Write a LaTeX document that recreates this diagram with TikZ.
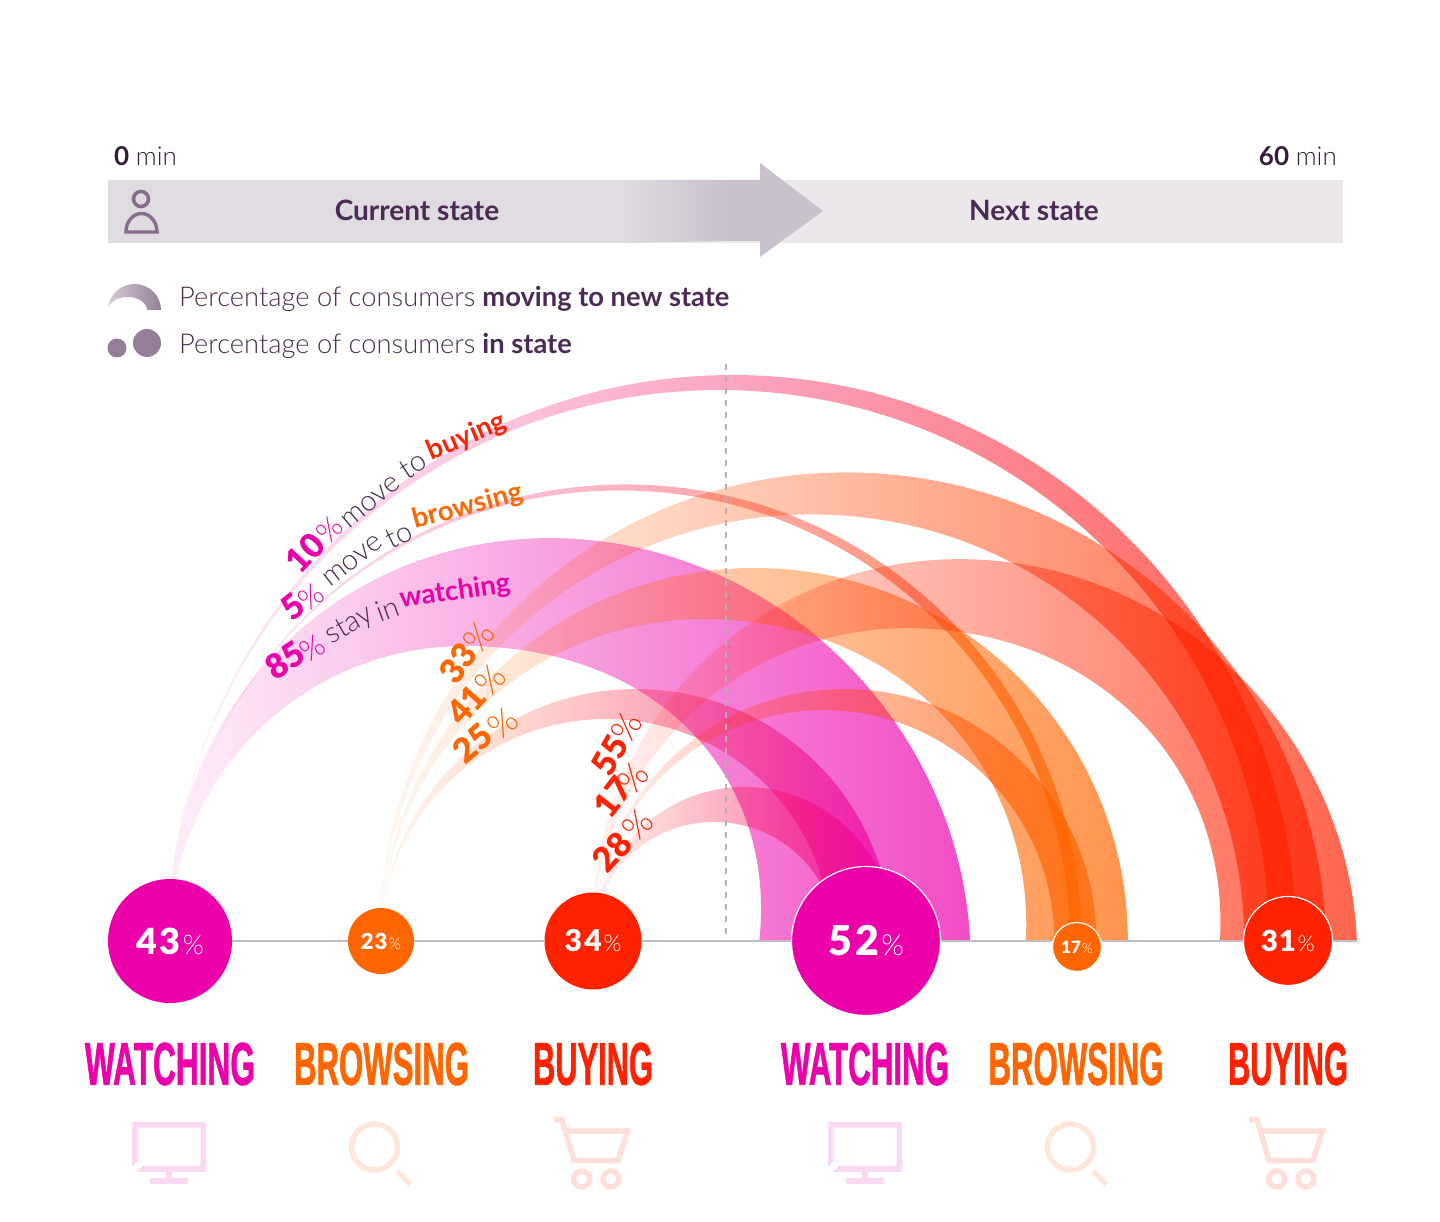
\documentclass[tikz,border=0pt]{standalone}
\usepackage{fontspec}
\setmainfont{Lato}
\newfontfamily\thinfont{Lato Light}
\newfontfamily\heavyfont{Lato Black}
\newfontfamily\capsfont[FakeBold=1.5]{Liberation Sans Bold}
\usetikzlibrary{fadings}
\definecolor{watchcol}{HTML}{EC00AA}
\definecolor{browsecol}{HTML}{FF6600}
\definecolor{buycol}{HTML}{FF2200}
\definecolor{inkcol}{HTML}{4B2A55}
\definecolor{barcol}{HTML}{DFDBE0}
\definecolor{bardark}{HTML}{C9C1CC}
\definecolor{barlight}{HTML}{EBE7EB}
\definecolor{legendcol}{HTML}{957F98}
\definecolor{personcol}{HTML}{866D8C}
\definecolor{floorcol}{HTML}{C4BCC8}
\definecolor{watchpale}{HTML}{FBD9F3}
\definecolor{browsepale}{HTML}{FFE6DA}
\definecolor{buypale}{HTML}{FFDFDA}
\tikzfading[name=bandfade, left color=transparent!95, right color=transparent!30]
\tikzset{
  statedot/.style={circle, fill=#1, text=white, inner sep=0pt},
  enddot/.style={statedot=#1, draw=white, line width=1.2pt},
  pctnum/.style={text=#1, font=\heavyfont\fontsize{34}{34}\selectfont, inner sep=0pt},
  pctsign/.style={text=#1, font=\thinfont\fontsize{30}{30}\selectfont, inner sep=0pt},
  pctwide/.style={text=#1, font=\thinfont\fontsize{35}{35}\selectfont, inner sep=0pt},
  flowword/.style={text=#1, font=\thinfont\fontsize{29}{29}\selectfont, inner sep=0pt},
  flowbold/.style={text=#1, font=\bfseries\fontsize{27.5}{27.5}\selectfont, inner sep=0pt},
  monoline/.style={line width=5.5pt, draw=#1, fill=none},
  floorline/.style={draw=floorcol, line width=1.4pt},
}
% s, outer end, outer peak, inner end, inner peak, colours; \outerlean and \innerlean tilt the wide ones
\newcommand{\outerlean}{0}
\newcommand{\innerlean}{0}
\newcommand{\flowband}[7]{
  \shade[left color=#6, right color=#7, path fading=bandfade]
    (#1,941)
    .. controls ({#1+\outerlean*.5523*(941-#3)},{941-.5523*(941-#3)})
       and ({(#1+#2)/2-.5523*(#2-#1)/2+\outerlean*(941-#3)},#3)
    .. ({(#1+#2)/2+\outerlean*(941-#3)},#3)
    .. controls ({(#1+#2)/2+.5523*(#2-#1)/2+\outerlean*(941-#3)},#3)
       and ({#2+\outerlean*.5523*(941-#3)},{941-.5523*(941-#3)})
    .. (#2,941)
    -- (#4,941)
    .. controls ({#4+\innerlean*.5523*(941-#5)},{941-.5523*(941-#5)})
       and ({(#1+#4)/2+.5523*(#4-#1)/2+\innerlean*(941-#5)},#5)
    .. ({(#1+#4)/2},#5)
    .. controls ({(#1+#4)/2-.5523*(#4-#1)/2},#5)
       and (#1,{941-.5523*(941-#5)})
    .. (#1,941)
    -- cycle;
}
\newcommand{\pctlabel}[3]{\fontsize{#1}{#1}\selectfont\heavyfont #2\kern.06em{\thinfont\fontsize{#3}{#3}\selectfont\%}}
\newcommand{\statename}[3]{\resizebox{#1pt}{42pt}{\textcolor{#2}{\capsfont #3}}}
\newcommand{\screenicon}[1]{
  \begin{scope}[xshift=#1pt]
    \fill[watchpale] (132,1122) -- (206,1122) -- (206,1172) -- (137,1172) -- (143,1165.5) -- (200.5,1165.5)
      -- (200.5,1127.5) -- (137.5,1127.5) -- (137.5,1161) -- (132,1167) -- cycle;
    \fill[watchpale] (166,1172) rectangle (172,1178);
    \fill[watchpale] (150,1178) rectangle (188,1184);
  \end{scope}
}
\newcommand{\lensicon}[1]{
  \begin{scope}[xshift=#1pt]
    \draw[monoline=browsepale] (374.5,1147) circle[radius=23];
    \draw[monoline=browsepale] (397,1171) -- (410,1184);
  \end{scope}
}
\newcommand{\carticon}[1]{
  \begin{scope}[xshift=#1pt]
    \draw[monoline=buypale] (554,1119.5) -- (562,1119.5) -- (574,1160.5) -- (618,1160.5) -- (627.5,1131) -- (566,1131);
    \draw[monoline=buypale] (581.7,1179) circle[radius=8];
    \draw[monoline=buypale] (611,1179) circle[radius=8];
  \end{scope}
}
\begin{document}
\begin{tikzpicture}[x=1pt, y=1pt, yscale=-1]
  \useasboundingbox (0,0) rectangle (1440,1222);
  % time bar
  \fill[barlight] (108,180) rectangle (1343,243);
  \fill[barcol] (108,180) -- (620,180) -- (620,243) -- (108,243) -- cycle;
  \shade[left color=barcol, right color=bardark] (620,180) -- (726,180) -- (726,241) -- (620,243) -- cycle;
  \fill[bardark] (725,180) -- (760,180) -- (760,163) -- (823,211) -- (760,257) -- (760,241) -- (725,241) -- cycle;
  \node (zeromin) [anchor=west, text=inkcol!70!black, font=\fontsize{26}{26}\selectfont, inner sep=0pt] at (114,156) {\textbf{0} {\thinfont min}};
  \node (sixtymin) [anchor=east, text=inkcol!70!black, font=\fontsize{26}{26}\selectfont, inner sep=0pt] at (1337,156) {\textbf{60} {\thinfont min}};
  \node (current) [text=inkcol, font=\bfseries\fontsize{28}{28}\selectfont] at (417,210) {Current state};
  \node (next) [text=inkcol, font=\bfseries\fontsize{28}{28}\selectfont] at (1034,210) {Next state};
  % person
  \draw[draw=personcol, line width=3.6pt] (141,199) circle[radius=7.5];
  \draw[draw=personcol, line width=3.4pt] (126,232) arc[start angle=180, end angle=360, x radius=15.5, y radius=18.5] -- cycle;
  % legend
  \shade[left color=legendcol!40, right color=legendcol] (108,310) arc[start angle=180, end angle=360, x radius=26.5, y radius=26]
    -- (147,310) arc[start angle=360, end angle=180, x radius=19.5, y radius=13] -- cycle;
  \fill[legendcol] (117,348) circle[radius=9.5];
  \fill[legendcol] (147,343) circle[radius=14];
  \node (movetext) [anchor=west, text=inkcol, font=\fontsize{27.3}{27.3}\selectfont, inner sep=0pt] at (179,299) {{\thinfont Percentage of consumers} \textbf{moving to new state}};
  \node (instate) [anchor=west, text=inkcol, font=\fontsize{27.3}{27.3}\selectfont, inner sep=0pt] at (179,346) {{\thinfont Percentage of consumers} \textbf{in state}};
  % bands from watching
  \renewcommand{\outerlean}{-.05}\renewcommand{\innerlean}{.11}
  \flowband{170}{971}{538}{760}{646}{watchcol}{watchcol}
  \renewcommand{\outerlean}{0}\renewcommand{\innerlean}{0}
  \flowband{170}{1083}{484}{1071}{490}{watchcol}{browsecol}
  \flowband{170}{1299}{375}{1272}{390}{watchcol}{buycol}
  % bands from browsing
  \renewcommand{\outerlean}{-.015}
  \flowband{381}{1328}{472}{1246}{514}{browsecol}{buycol}
  \renewcommand{\outerlean}{0}\renewcommand{\innerlean}{.05}
  \flowband{381}{1128}{568}{1026}{619}{browsecol}{browsecol}
  \renewcommand{\innerlean}{0}
  \flowband{381}{891}{689}{831}{719}{browsecol}{watchcol}
  % bands from buying
  \renewcommand{\outerlean}{-.04}\renewcommand{\innerlean}{.06}
  \flowband{593}{1357}{559}{1220}{628}{buycol}{buycol}
  \renewcommand{\outerlean}{0}\renewcommand{\innerlean}{0}
  \flowband{593}{1097}{689}{1055}{710}{buycol}{browsecol}
  \flowband{593}{896}{787}{836}{822}{buycol}{watchcol}
  \draw[draw=black!30, line width=1.5pt, dash pattern=on 6pt off 6pt] (726,364) -- (726,941);
  % states
  \node (wsrc) [statedot=watchcol, minimum size=124pt] at (170,941) {\pctlabel{36}{4\kern.08em3}{27}};
  \node (brsrc) [statedot=browsecol, minimum size=66pt] at (381,941) {\pctlabel{22}{2\kern.05em3}{16}};
  \node (busrc) [statedot=buycol, minimum size=97pt] at (593,941) {\pctlabel{30}{3\kern.08em4}{23}};
  \node (wdst) [enddot=watchcol, minimum size=149pt] at (866,941) {\pctlabel{41}{5\kern.08em2}{29}};
  \node (brdst) [enddot=browsecol, minimum size=49pt] at (1077,947) {\pctlabel{17}{17}{14}};
  \node (budst) [enddot=buycol, minimum size=89pt] at (1288,941) {\pctlabel{29}{3\kern.04em1}{22}};
  \coordinate (floorend) at (1357,941);
  \draw[floorline] (wsrc) -- (brsrc);
  \draw[floorline] (brsrc) -- (busrc);
  \draw[floorline] (busrc) -- (wdst);
  \draw[floorline] (wdst.east) -- (brdst.west |- wdst.east);
  \draw[floorline] (brdst.east |- budst.west) -- (budst.west);
  \draw[floorline] (budst.east) -- (floorend);
  % state names
  \node (namea) [inner sep=0pt] at (170,1064) {\statename{170}{watchcol}{WATCHING}};
  \node (nameb) [inner sep=0pt] at (381.5,1064) {\statename{175}{browsecol}{BROWSING}};
  \node (namec) [inner sep=0pt] at (593,1064) {\statename{120}{buycol}{BUYING}};
  \node (named) [inner sep=0pt] at (865,1064) {\statename{168}{watchcol}{WATCHING}};
  \node (namee) [inner sep=0pt] at (1076,1064) {\statename{175}{browsecol}{BROWSING}};
  \node (namef) [inner sep=0pt] at (1288,1064) {\statename{120}{buycol}{BUYING}};
  % icons
  \screenicon{0} \screenicon{696}
  \lensicon{0} \lensicon{696}
  \carticon{0} \carticon{695}
  % flows out of watching
  \node (pa) [pctnum=watchcol, rotate=47] at (305,553) {10};
  \node (pb) [pctsign=watchcol, rotate=47] at (330,530) {\%};
  \node (pc) [flowword=inkcol, rotate=40] at (371,502) {move};
  \node (pd) [flowword=inkcol, rotate=33] at (413,465) {to};
  \node (pe) [flowbold=buycol, rotate=23] at (467,437) {buying};
  \node (qa) [pctnum=watchcol, rotate=38] at (293,607) {5};
  \node (qb) [pctsign=watchcol, rotate=38] at (311,597) {\%};
  \node (qc) [flowword=inkcol, rotate=38] at (353,561) {move};
  \node (qd) [flowword=inkcol, rotate=26] at (399,535) {to};
  \node (qe) [flowbold=browsecol, rotate=15] at (468,507) {browsing};
  \node (ra) [pctnum=watchcol, rotate=33] at (285,660) {85};
  \node (rb) [pctsign=watchcol, rotate=33] at (313,648) {\%};
  \node (rc) [flowword=inkcol, rotate=30] at (350,626) {stay};
  \node (rd) [flowword=inkcol, rotate=20] at (387,609) {in};
  \node (re) [flowbold=watchcol, rotate=8] at (455,592) {watching};
  % flows out of browsing
  \node (sa) [pctnum=browsecol, rotate=53] at (458,663) {33};
  \node (sb) [pctwide=browsecol, rotate=53] at (479,637) {\%};
  \node (sc) [pctnum=browsecol, rotate=48] at (466,705) {41};
  \node (sd) [pctwide=browsecol, rotate=48] at (490,680) {\%};
  \node (se) [pctnum=browsecol, rotate=40] at (473,743) {25};
  \node (sf) [pctwide=browsecol, rotate=40] at (503,723) {\%};
  % flows out of buying
  \node (ta) [pctnum=buycol, rotate=60] at (610,755) {55};
  \node (tb) [pctwide=buycol, rotate=60] at (627,727) {\%};
  \node (tc) [pctnum=buycol, rotate=52] at (613,797) {17};
  \node (td) [pctwide=buycol, rotate=52] at (633,778) {\%};
  \node (te) [pctnum=buycol, rotate=47] at (612,852) {28};
  \node (tf) [pctwide=buycol, rotate=47] at (638,825) {\%};
\end{tikzpicture}
\end{document}
